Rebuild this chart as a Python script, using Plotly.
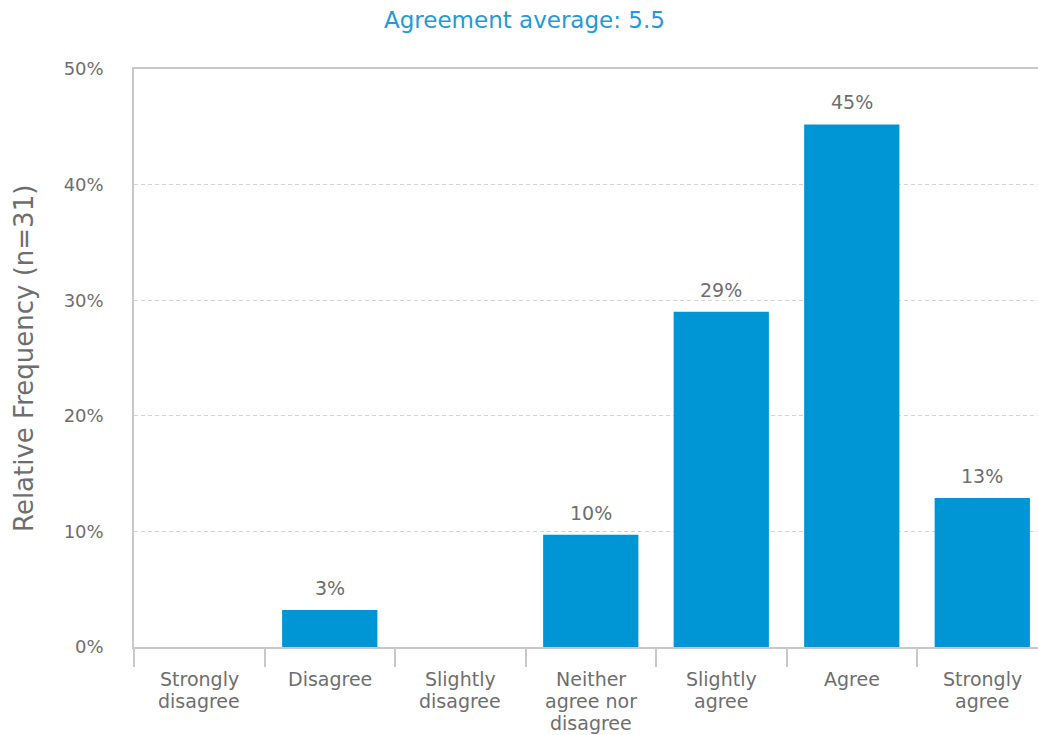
import plotly.graph_objects as go

categories = ["Strongly disagree", "Disagree", "Slightly disagree",
              "Neither agree nor disagree", "Slightly agree", "Agree",
              "Strongly agree"]
category_lines = [["Strongly", "disagree"], ["Disagree"], ["Slightly", "disagree"],
                  ["Neither", "agree nor", "disagree"], ["Slightly", "agree"], ["Agree"],
                  ["Strongly", "agree"]]
percent = [0.0, 3.2, 0.0, 9.7, 29.0, 45.2, 12.9]
y_ticks = [0, 10, 20, 30, 40, 50]
y_tick_labels = ["0%", "10%", "20%", "30%", "40%", "50%"]

FONT = "DejaVu Sans"
GREY = "#6e6e6e"
BLUE = "#0096d6"
AXIS = "#c8c8cc"

W, H = 1038, 735
L, R, T, B = 134, 0, 69, 88
PW, PH = W - L - R, H - T - B

n = len(categories)
x_pos = list(range(n))
boundaries = [i - 0.5 for i in range(n + 1)]

fig = go.Figure(go.Bar(
    x=x_pos,
    y=percent,
    marker=dict(color=BLUE, line=dict(width=0)),
    hovertext=categories,
))

annotations = [
    dict(text="Agreement average: 5.5", xref="paper", yref="paper",
         x=(524 - L) / PW, y=1 + (T - 20) / PH,
         xanchor="center", yanchor="middle", showarrow=False,
         font=dict(family=FONT, size=23, color="#1f9bd7")),
    dict(text="Relative Frequency (n=31)", textangle=-90,
         xref="paper", yref="paper",
         x=(24 - L) / PW, y=(H - B - 359) / PH,
         xanchor="center", yanchor="middle",
         showarrow=False, font=dict(family=FONT, size=26, color=GREY)),
]

# value labels above the non-empty bars
for i, v in enumerate(percent):
    if v > 0:
        annotations.append(dict(
            text=f"{round(v)}%", xref="x", yref="y", x=i, y=v,
            xanchor="center", yanchor="bottom", yshift=10,
            borderpad=0, showarrow=False,
            font=dict(family=FONT, size=19, color=GREY)))

# category labels, one annotation per text line for tight line spacing
for i, lines in enumerate(category_lines):
    for j, line in enumerate(lines):
        annotations.append(dict(
            text=line, xref="x", yref="paper", x=i, y=0,
            xanchor="center", yanchor="middle", yshift=-(32 + 22.2 * j),
            borderpad=0, showarrow=False,
            font=dict(family=FONT, size=19, color=GREY)))

fig.update_layout(
    width=W, height=H,
    margin=dict(l=L, r=R, t=T, b=B),
    paper_bgcolor="white", plot_bgcolor="white",
    bargap=0.27,
    showlegend=False,
    font=dict(family=FONT, color=GREY),
    annotations=annotations,
)

# separators between categories hang below the baseline
fig.update_xaxes(
    range=[-0.5, 6.427],
    tickmode="array", tickvals=boundaries, ticktext=[""] * len(boundaries),
    showticklabels=False,
    ticks="outside", ticklen=18, tickcolor=AXIS, tickwidth=1.5,
    showline=True, linecolor=AXIS, linewidth=2, mirror=True,
    showgrid=False, zeroline=False,
)

fig.update_yaxes(
    range=[0, 50],
    tickmode="array", tickvals=y_ticks, ticktext=y_tick_labels,
    ticks="", ticklabelstandoff=25,
    tickfont=dict(family=FONT, size=18, color=GREY),
    showline=True, linecolor=AXIS, linewidth=1.5,
    showgrid=True, gridcolor="#d4d4d4", griddash="4px,3px", gridwidth=1,
    zeroline=False,
)

fig.write_html("out.html")
